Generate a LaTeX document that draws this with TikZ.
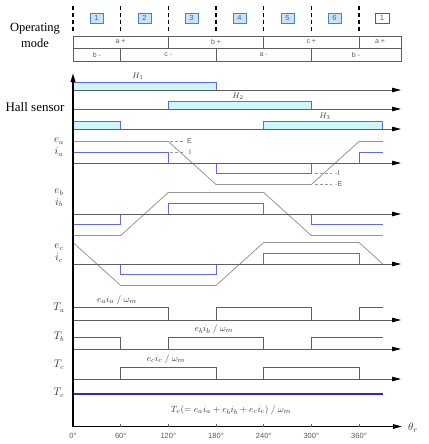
\documentclass[tikz,border=0pt]{standalone}
\usepackage{fontspec}
\setmainfont{Liberation Serif}
\newfontfamily\lsans{Liberation Sans}
\usetikzlibrary{arrows.meta}
\definecolor{basegray}{RGB}{95,95,95}
\definecolor{egray}{RGB}{150,150,150}
\definecolor{iblue}{RGB}{95,105,230}
\definecolor{teblue}{RGB}{45,45,185}
\definecolor{hallfill}{RGB}{205,247,250}
\definecolor{boxfill}{RGB}{200,228,250}
\definecolor{boxline}{RGB}{70,130,210}
\definecolor{txtgray}{RGB}{90,90,90}
\definecolor{lblgray}{RGB}{55,55,55}
\def\Xo{73}\def\Xa{120.7}\def\Xb{168.3}\def\Xc{216}\def\Xd{263.7}\def\Xe{311.3}\def\Xf{359}\def\Xg{382.8}\def\Xend{401}
\begin{document}
\begin{tikzpicture}[x=1pt,y=-1pt,
  tip/.style={-{Triangle[length=9pt,width=4.5pt,color=black]}},
  baseln/.style={draw=basegray,line width=0.8pt,tip},
  etrace/.style={draw=egray,line width=0.8pt},
  itrace/.style={draw=iblue,line width=0.9pt},
  tq/.style={draw=basegray,line width=0.8pt},
  modebox/.style={draw=boxline,fill=boxfill,minimum width=13.5pt,minimum height=10.5pt,inner sep=0pt,font=\lsans\fontsize{7.5}{8}\selectfont,text=boxline!80!black},
  tbl/.style={draw=basegray,line width=0.5pt},
  tbltxt/.style={font=\lsans\fontsize{7}{8}\selectfont,text=txtgray},
  lbl/.style={font=\fontsize{10.5}{12}\selectfont,inner sep=0pt,text=lblgray},
  small/.style={font=\lsans\fontsize{7}{8}\selectfont,text=txtgray,anchor=west,inner sep=0pt},
  tick/.style={font=\lsans\fontsize{7.5}{8}\selectfont,text=txtgray,inner sep=0pt},
  vdash/.style={draw=black,line width=1.1pt,dash pattern=on 4pt off 3pt}
]
\useasboundingbox (0,0) rectangle (428,444);
% ---------- operating mode ----------
\node[align=center,font=\fontsize{12.5}{16}\selectfont] (opmode) at (35,35) {Operating\\mode};
\foreach \xx in {\Xo,\Xa,\Xb,\Xc,\Xd,\Xe,\Xf}{\draw[vdash] (\xx,6) -- (\xx,31);}
\node[modebox] (m1) at (96.5,18) {1};
\node[modebox] (m2) at (144.5,18) {2};
\node[modebox] (m3) at (191.5,18) {3};
\node[modebox] (m4) at (239.5,18) {4};
\node[modebox] (m5) at (287.5,18) {5};
\node[modebox] (m6) at (334.5,18) {6};
\node[modebox,fill=white,draw=basegray,text=txtgray] (m7) at (382,18) {1};
\draw[tbl] (\Xo,36) rectangle (\Xend,61);
\draw[tbl] (\Xo,48) -- (\Xend,48);
\draw[tbl] (\Xb,36) -- (\Xb,48) (\Xd,36) -- (\Xd,48) (\Xf,36) -- (\Xf,48);
\draw[tbl] (\Xa,48) -- (\Xa,61) (\Xc,48) -- (\Xc,61) (\Xe,48) -- (\Xe,61);
\node[tbltxt] (ap1) at (120.5,42) {a +};
\node[tbltxt] (bp) at (216,42) {b +};
\node[tbltxt] (cp) at (311.3,42) {c +};
\node[tbltxt] (ap2) at (380,42) {a +};
\node[tbltxt] (bm1) at (97,54.5) {b -};
\node[tbltxt] (cm) at (168.3,54.5) {c -};
\node[tbltxt] (am) at (263.7,54.5) {a -};
\node[tbltxt] (bm2) at (356,54.5) {b -};
% ---------- hall sensor ----------
\node[font=\fontsize{13}{15}\selectfont] (hall) at (35,107) {Hall sensor};
\fill[hallfill] (\Xo,82) rectangle (\Xc,90);
\fill[hallfill] (\Xb,101.5) rectangle (\Xe,109);
\fill[hallfill] (\Xo,121) rectangle (\Xa,129);
\fill[hallfill] (\Xd,121) rectangle (\Xg,129);
\draw[itrace] (\Xo,82) -- (\Xc,82) -- (\Xc,90);
\draw[itrace] (\Xb,109) -- (\Xb,101.5) -- (\Xe,101.5) -- (\Xe,109);
\draw[itrace] (\Xo,121) -- (\Xa,121) -- (\Xa,129);
\draw[itrace] (\Xd,129) -- (\Xd,121) -- (\Xg,121) -- (\Xg,129);
\draw[baseln] (\Xo,90) -- (\Xend,90);
\draw[baseln] (\Xo,109) -- (\Xend,109);
\draw[baseln] (\Xo,129) -- (\Xend,129);
\node[lbl,font=\fontsize{8.5}{10}\selectfont] (h1) at (138,76) {$H_1$};
\node[lbl,font=\fontsize{8.5}{10}\selectfont] (h2) at (238,96) {$H_2$};
\node[lbl,font=\fontsize{8.5}{10}\selectfont] (h3) at (325,116) {$H_3$};
% ---------- phase a ----------
\draw[etrace] (\Xo,141.5) -- (\Xb,141.5) -- (\Xc,184.5) -- (\Xe,184.5) -- (\Xf,141.5) -- (\Xg,141.5);
\draw[itrace] (\Xo,152.5) -- (\Xb,152.5) -- (\Xb,163) -- (\Xc,163) -- (\Xc,173.5) -- (\Xe,173.5) -- (\Xe,163) -- (\Xf,163) -- (\Xf,152.5) -- (\Xg,152.5);
\draw[baseln] (\Xo,163) -- (\Xend,163);
\node[lbl] (ea) at (59,141) {$e_a$};
\node[lbl] (ia) at (59,152) {$i_a$};
\draw[egray,line width=0.6pt,densely dashed] (170,141.5) -- (183,141.5);
\draw[egray,line width=0.6pt,densely dashed] (170,152.5) -- (183,152.5);
\draw[egray,line width=0.6pt,densely dashed] (315,173.5) -- (332,173.5);
\draw[egray,line width=0.6pt,densely dashed] (315,184.5) -- (332,184.5);
\node[small] (lE) at (187,141.5) {E};
\node[small] (lI) at (189,152.5) {I};
\node[small] (lmI) at (335,173.5) {-I};
\node[small] (lmE) at (335,184.5) {-E};
% ---------- phase b ----------
\draw[etrace] (\Xo,235.5) -- (\Xa,235.5) -- (\Xb,192.5) -- (\Xd,192.5) -- (\Xe,235.5) -- (\Xg,235.5);
\draw[itrace] (\Xo,224.5) -- (\Xa,224.5) -- (\Xa,214) -- (\Xb,214) -- (\Xb,203.5) -- (\Xd,203.5) -- (\Xd,214) -- (\Xe,214) -- (\Xe,224.5) -- (\Xg,224.5);
\draw[baseln] (\Xo,214) -- (\Xend,214);
\node[lbl] (eb) at (59,192) {$e_b$};
\node[lbl] (ib) at (59,202.5) {$i_b$};
% ---------- phase c ----------
\draw[etrace] (\Xo,242.5) -- (\Xa,285.5) -- (\Xc,285.5) -- (\Xd,242.5) -- (\Xf,242.5) -- (\Xg,264);
\draw[itrace] (\Xa,264) -- (\Xa,274.5) -- (\Xc,274.5) -- (\Xc,264);
\draw[itrace] (\Xd,264) -- (\Xd,253.5) -- (\Xf,253.5) -- (\Xf,264);
\draw[baseln] (\Xo,264) -- (\Xend,264);
\node[lbl] (ec) at (59,247) {$e_c$};
\node[lbl] (ic) at (59,258) {$i_c$};
% ---------- torques ----------
\draw[tq] (\Xo,307.5) -- (\Xb,307.5) -- (\Xb,320);
\draw[tq] (\Xc,320) -- (\Xc,307.5) -- (\Xe,307.5) -- (\Xe,320);
\draw[tq] (\Xf,320) -- (\Xf,307.5) -- (\Xg,307.5);
\draw[baseln] (\Xo,320) -- (\Xend,320);
\draw[tq] (\Xo,337) -- (\Xa,337) -- (\Xa,349);
\draw[tq] (\Xb,349) -- (\Xb,337) -- (\Xd,337) -- (\Xd,349);
\draw[tq] (\Xe,349) -- (\Xe,337) -- (\Xg,337);
\draw[baseln] (\Xo,349) -- (\Xend,349);
\draw[tq] (\Xa,379) -- (\Xa,367) -- (\Xc,367) -- (\Xc,379);
\draw[tq] (\Xd,379) -- (\Xd,367) -- (\Xf,367) -- (\Xf,379);
\draw[baseln] (\Xo,379) -- (\Xend,379);
\draw[teblue,line width=1.1pt] (\Xo,394) -- (\Xg,394);
\node[lbl] (Ta) at (59,308) {$T_a$};
\node[lbl] (Tb) at (59,337) {$T_b$};
\node[lbl] (Tc) at (59,365) {$T_c$};
\node[lbl] (Te) at (59,393) {$T_e$};
\node[lbl,font=\fontsize{9.5}{11}\selectfont] (pa) at (117,300) {$e_a i_a\ /\ \omega_m$};
\node[lbl,font=\fontsize{9.5}{11}\selectfont] (pb) at (214,329) {$e_b i_b\ /\ \omega_m$};
\node[lbl,font=\fontsize{9.5}{11}\selectfont] (pc) at (166,359) {$e_c i_c\ /\ \omega_m$};
\node[lbl,font=\fontsize{9.5}{11}\selectfont] (pe) at (231,410) {$T_e(= e_a i_a + e_b i_b + e_c i_c)\ /\ \omega_m$};
% ---------- axes ----------
\draw[black,line width=1.6pt,tip] (\Xo,427) -- (\Xo,73);
\draw[black,line width=1.6pt,tip] (\Xo,426.5) -- (402,426.5);
\foreach \xx in {\Xa,\Xb,\Xc,\Xd,\Xe,\Xf}{\draw[basegray,line width=0.6pt] (\xx,423.5) -- (\xx,426.5);}
\node[lbl,font=\fontsize{11}{13}\selectfont] (theta) at (413,428) {$\theta_r$};
\node[tick] (t0) at (\Xo,436) {0°};
\node[tick] (t60) at (\Xa,436) {60°};
\node[tick] (t120) at (\Xb,436) {120°};
\node[tick] (t180) at (\Xc,436) {180°};
\node[tick] (t240) at (\Xd,436) {240°};
\node[tick] (t300) at (\Xe,436) {300°};
\node[tick] (t360) at (\Xf,436) {360°};
\end{tikzpicture}
\end{document}
